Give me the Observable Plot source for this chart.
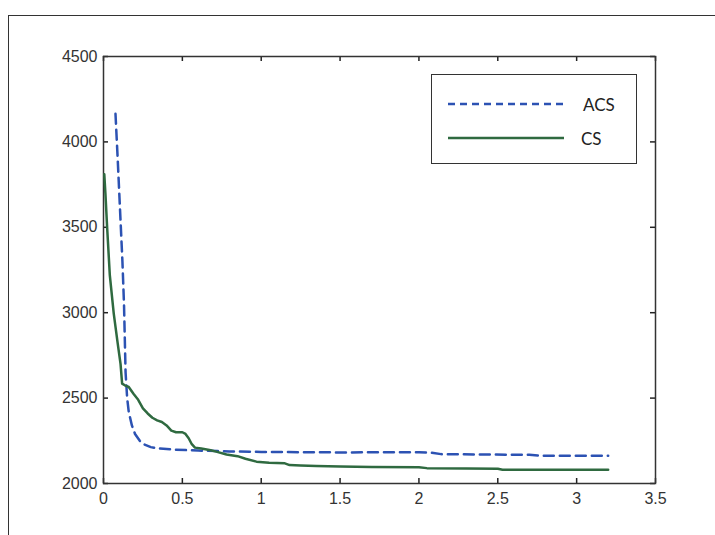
<!DOCTYPE html>
<html>
<head>
<meta charset="utf-8">
<script src="https://cdn.jsdelivr.net/npm/d3@7"></script>
<script src="https://cdn.jsdelivr.net/npm/@observablehq/plot@0.6"></script>
<style>
  html, body { margin: 0; padding: 0; background: #fff; }
  #wrap { position: relative; width: 715px; height: 535px; overflow: hidden; background: #fff; }
  #outer { position: absolute; left: 8px; top: 15px; width: 730px; height: 560px; border: 1.5px solid #333; box-sizing: border-box; }
  #chart { position: absolute; left: 0; top: 0; }
  #legend { position: absolute; left: 431px; top: 74px; width: 206px; height: 90px; border: 1px solid #333; background: #fff; box-sizing: border-box; }
  #legend .row { position: absolute; left: 16px; height: 20px; display: flex; align-items: center; }
  #legend .lab { font-family: Lato, "Open Sans", sans-serif; font-size: 17px; color: #222; }
</style>
</head>
<body>
<div id="wrap">
  <div id="outer"></div>
  <div id="chart"></div>
  <div id="legend"></div>
</div>
<script>
// ---- data ----
const seriesNames = ["ACS", "CS"];
const acsX = [0.076, 0.09, 0.105, 0.12, 0.13, 0.135, 0.14, 0.15, 0.16, 0.18, 0.2, 0.23, 0.26, 0.3, 0.35, 0.45, 0.6, 0.8, 1.0, 1.5, 2.0, 2.08, 2.14, 2.4, 2.7, 2.78, 2.85, 3.2];
const acsY = [4165, 3900, 3600, 3300, 3050, 2850, 2650, 2500, 2420, 2340, 2290, 2250, 2228, 2213, 2205, 2198, 2193, 2188, 2185, 2182, 2183, 2180, 2172, 2170, 2168, 2163, 2163, 2163];
const csX = [0.005, 0.012, 0.023, 0.04, 0.065, 0.09, 0.108, 0.118, 0.135, 0.16, 0.19, 0.22, 0.25, 0.28, 0.31, 0.34, 0.37, 0.4, 0.43, 0.46, 0.5, 0.52, 0.54, 0.56, 0.58, 0.62, 0.68, 0.72, 0.78, 0.85, 0.9, 0.97, 1.05, 1.15, 1.18, 1.25, 1.35, 1.5, 1.7, 2.0, 2.05, 2.3, 2.5, 2.53, 2.8, 3.2];
const csY = [3810, 3700, 3500, 3220, 2995, 2820, 2700, 2585, 2575, 2565, 2525, 2490, 2440, 2410, 2385, 2370, 2360, 2340, 2310, 2300, 2300, 2290, 2265, 2230, 2210, 2205, 2195, 2185, 2170, 2160, 2145, 2128, 2122, 2118, 2108, 2105, 2102, 2100, 2097, 2095, 2090, 2088, 2086, 2080, 2080, 2080];
const xTicks = [0, 0.5, 1, 1.5, 2, 2.5, 3, 3.5];
const yTicks = [2000, 2500, 3000, 3500, 4000, 4500];
const colors = ["#2c52b3", "#2f6a40"];

const acs = acsX.map((x, i) => ({x, y: acsY[i]}));
const cs = csX.map((x, i) => ({x, y: csY[i]}));

const W = 715, H = 535, mL = 103, mR = 60, mT = 56, mB = 52;
const innerW = W - mL - mR, innerH = H - mT - mB, tk = 5;
const fmt = d => String(d);
const tickStyle = {stroke: "#222", strokeWidth: 1.5};

const chart = Plot.plot({
  width: W,
  height: H,
  marginLeft: mL,
  marginRight: mR,
  marginTop: mT,
  marginBottom: mB,
  style: {background: "transparent", color: "#333", fontFamily: '"Liberation Sans", Arial, sans-serif', fontSize: "16px"},
  x: {domain: [0, 3.5]},
  y: {domain: [2000, 4500]},
  marks: [
    Plot.axisX(xTicks, {anchor: "bottom", tickSize: 0, tickPadding: 9, tickFormat: fmt, label: null, fontSize: 16}),
    Plot.axisY(yTicks, {anchor: "left", tickSize: 0, tickPadding: 6, tickFormat: fmt, label: null, fontSize: 16}),
    Plot.ruleX(xTicks, {x: d => d, insetTop: innerH - tk, ...tickStyle}),
    Plot.ruleX(xTicks, {x: d => d, insetBottom: innerH - tk, ...tickStyle}),
    Plot.ruleY(yTicks, {y: d => d, insetRight: innerW - tk, ...tickStyle}),
    Plot.ruleY(yTicks, {y: d => d, insetLeft: innerW - tk, ...tickStyle}),
    Plot.frame({stroke: "#333", strokeWidth: 1.5}),
    Plot.line(acs, {x: "x", y: "y", stroke: colors[0], strokeWidth: 2.5, strokeDasharray: "10,6"}),
    Plot.line(cs, {x: "x", y: "y", stroke: colors[1], strokeWidth: 2.5})
  ]
});
document.getElementById("chart").appendChild(chart);

// legend
const legend = document.getElementById("legend");
const rowsTop = [19, 53];
seriesNames.forEach((name, i) => {
  const row = document.createElement("div");
  row.className = "row";
  row.style.top = rowsTop[i] + "px";
  const dash = i === 0 ? 'stroke-dasharray="7,5"' : "";
  row.innerHTML = `<svg width="116" height="20"><line x1="0" y1="10" x2="116" y2="10" stroke="${colors[i]}" stroke-width="2.5" ${dash}/></svg><span class="lab" style="margin-left:${i === 0 ? 19 : 17}px">${name}</span>`;
  legend.appendChild(row);
});
</script>
</body>
</html>
